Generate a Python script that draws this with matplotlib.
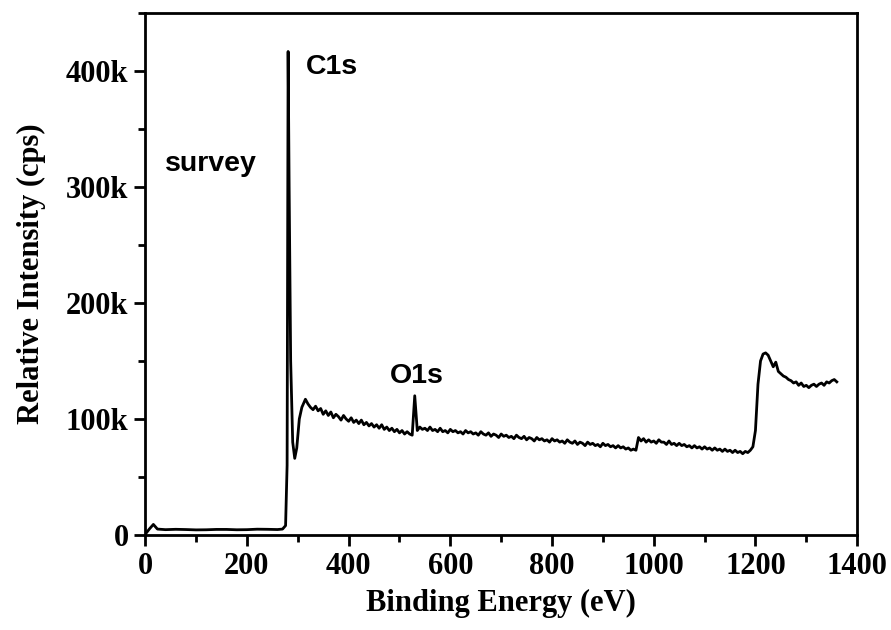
import numpy as np
import matplotlib
matplotlib.use('Agg')
import matplotlib.pyplot as plt
from matplotlib.ticker import MultipleLocator, FuncFormatter

# survey spectrum (binding energy eV, intensity in k cps)
be_low = [0, 8, 16, 24, 40, 60, 80, 100, 120, 140, 160, 180, 200, 220, 240,
          260, 270, 276, 279, 281, 283, 286, 290, 294, 298, 303, 308, 315]
cps_low = [0.5, 5, 9, 5, 4.5, 4.8, 4.6, 4.3, 4.4, 4.7, 4.7, 4.4, 4.5, 4.9, 4.8,
           4.6, 5, 8, 60, 417, 300, 150, 80, 66, 75, 100, 110, 117]

# 5 eV steps from 320 to 1360 eV
be_high = list(range(320, 1361, 5))
cps_high = [
    113, 110, 108, 111, 107, 109, 104, 107, 103, 106,
    101, 104, 102, 99, 103, 100, 98, 101, 97, 99,
    96, 99, 95, 97, 94, 96, 93, 95, 92, 95,
    91, 93, 90, 92, 89, 91, 88, 90, 87, 89,
    87, 86, 120, 90, 93, 91, 92, 90, 93, 90,
    91, 89, 92, 89, 90, 88, 91, 89, 90, 88,
    89, 87, 90, 88, 89, 87, 88, 86, 89, 87,
    86, 88, 85, 87, 86, 84, 87, 85, 86, 84,
    85, 83, 86, 84, 83, 85, 82, 84, 83, 81,
    84, 82, 83, 81, 82, 80, 83, 81, 82, 80,
    81, 79, 82, 80, 79, 81, 78, 80, 79, 77,
    80, 78, 79, 77, 78, 76, 79, 77, 78, 76,
    77, 75, 77, 75, 76, 74, 75, 73, 74, 73,
    84, 81, 83, 80, 82, 80, 81, 79, 82, 80,
    80, 78, 81, 78, 79, 77, 79, 77, 78, 76,
    77, 75, 77, 75, 76, 74, 76, 74, 75, 73,
    75, 73, 74, 72, 74, 72, 73, 71, 73, 71,
    72, 70, 72, 71, 73, 76, 90, 130, 150, 156,
    157, 155, 150, 145, 149, 141, 139, 137, 136, 134,
    133, 131, 132, 129, 131, 128, 129, 127, 129, 130,
    128, 130, 131, 129, 132, 131, 133, 134, 132,
]

energy = np.array(be_low + be_high)
counts = np.array(cps_low + cps_high) * 1000

peak_labels = ['C1s', 'O1s', 'survey']
label_pos = [(315, 398e3), (482, 131e3), (38, 314e3)]

serif = ['Liberation Serif', 'DejaVu Serif']
sans = ['Liberation Sans', 'DejaVu Sans']

fig = plt.figure(figsize=(8.91, 6.3), dpi=100)
ax = fig.add_axes([0.163, 0.151, 0.799, 0.828])
ax.plot(energy, counts, color='black', lw=2.0)

ax.set_xlim(0, 1400)
ax.set_ylim(0, 450e3)
ax.xaxis.set_major_locator(MultipleLocator(200))
ax.xaxis.set_minor_locator(MultipleLocator(100))
ax.yaxis.set_major_locator(MultipleLocator(100e3))
ax.yaxis.set_minor_locator(MultipleLocator(50e3))
ax.yaxis.set_major_formatter(FuncFormatter(lambda v, p: '0' if v == 0 else '%dk' % (v / 1000)))

for s in ax.spines.values():
    s.set_linewidth(2)
ax.tick_params(which='major', direction='out', length=8, width=2, pad=4)
ax.tick_params(which='minor', direction='out', length=5, width=2)
for lab in ax.get_xticklabels() + ax.get_yticklabels():
    lab.set_family(serif)
    lab.set_fontweight('bold')
    lab.set_fontsize(22)

ax.set_xlabel('Binding Energy (eV)', family=serif, fontweight='bold', fontsize=22, labelpad=6)
ax.set_ylabel('Relative Intensity (cps)', family=serif, fontweight='bold', fontsize=22, labelpad=14)

for txt, (x, y) in zip(peak_labels, label_pos):
    ax.text(x, y, txt, family=sans, fontweight='bold', fontsize=20.5, ha='left', va='baseline')

fig.savefig('out.png', dpi=100)
